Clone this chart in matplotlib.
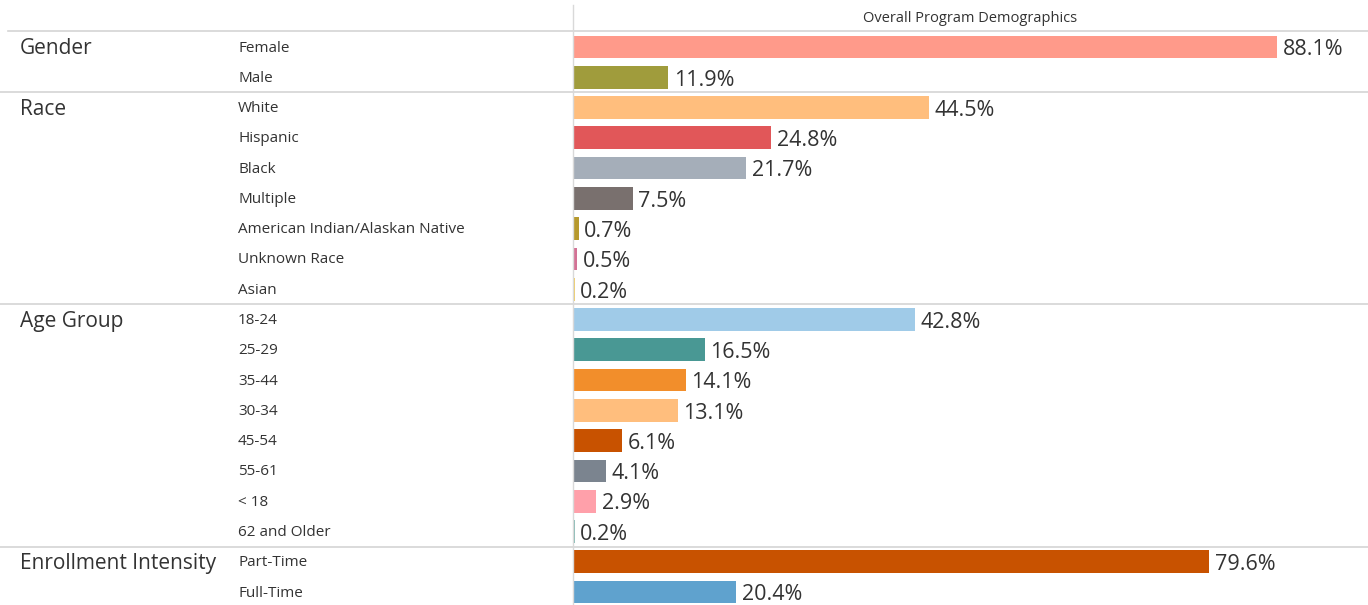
import matplotlib.pyplot as plt

plt.rcParams['font.family'] = ['Open Sans', 'DejaVu Sans']

groups = ['Gender', 'Race', 'Age Group', 'Enrollment Intensity']
group_sizes = [2, 7, 8, 2]
categories = ['Female', 'Male',
              'White', 'Hispanic', 'Black', 'Multiple',
              'American Indian/Alaskan Native', 'Unknown Race', 'Asian',
              '18-24', '25-29', '35-44', '30-34', '45-54', '55-61', '< 18',
              '62 and Older',
              'Part-Time', 'Full-Time']
values = [88.1, 11.9,
          44.5, 24.8, 21.7, 7.5, 0.7, 0.5, 0.2,
          42.8, 16.5, 14.1, 13.1, 6.1, 4.1, 2.9, 0.2,
          79.6, 20.4]
colors = ['#FF9A8A', '#A09C3C',
          '#FFBE7D', '#E15759', '#A5AEB9', '#79706E', '#B6992D', '#D37295',
          '#F1CE63',
          '#A0CBE8', '#499894', '#F28E2B', '#FFBE7D', '#C85200', '#7B848F',
          '#FFA0AA', '#86BCB6',
          '#C85200', '#5FA2CE']

W, H = 1368, 605
fig = plt.figure(figsize=(W / 100, H / 100), dpi=100)

# bar area: x from 573 px to right edge, y from 31 px to bottom
x0, top = 573, 31
pitch = 30.28
first = 47
ax = fig.add_axes([x0 / W, 0, (W - x0) / W, (H - top) / H])
ymin = (top - first) / pitch
ymax = (H - first) / pitch
ax.set_ylim(ymax, ymin)
ax.set_xlim(0, (W - x0) / 7.99)

rows = list(range(len(categories)))
ax.barh(rows, values, height=0.75, color=colors)
for r, v in zip(rows, values):
    ax.annotate(f'{v:.1f}%', (v, r), xytext=(4, -2), textcoords='offset points',
                va='center', ha='left', fontsize=15.5, color='#333333')

for s in ax.spines.values():
    s.set_visible(False)
ax.set_xticks([])
ax.set_yticks([])

# left labels
to_fig = lambda r: 1 - (first + pitch * r) / H
start = 0
for g, n in zip(groups, group_sizes):
    fig.text(20 / W, to_fig(start) - 1.5 / H, g, fontsize=15, color='#333333',
             va='center')
    for k in range(n):
        fig.text(238 / W, to_fig(start + k) - 1 / H, categories[start + k],
                 fontsize=11, color='#333333', va='center')
    start += n
    if start < len(categories):
        ax.axhline(start - 0.5, xmin=-x0 / (W - x0), xmax=1,
                   color='#D4D4D4', lw=1.2, clip_on=False)

# header line and vertical divider
fig.add_artist(plt.Line2D([8 / W, 1], [1 - top / H, 1 - top / H],
                          color='#D4D4D4', lw=1.2))
fig.add_artist(plt.Line2D([x0 / W, x0 / W], [0, 1 - 5 / H],
                          color='#D9D9D9', lw=1))
fig.text((x0 + W) / 2 / W, 1 - 19 / H, 'Overall Program Demographics',
         fontsize=10.5, color='#333333', ha='center', va='center')

fig.savefig('out.png', dpi=100)
